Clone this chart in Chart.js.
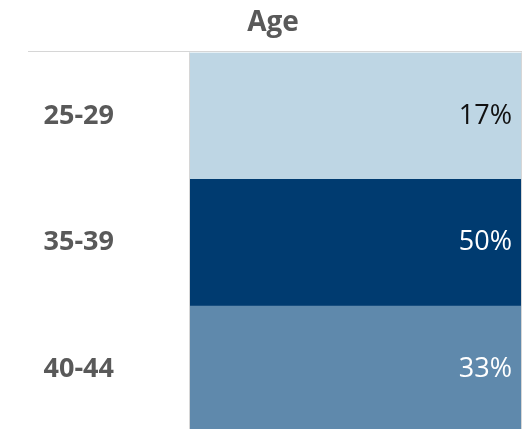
<!DOCTYPE html>
<html>
<head>
<meta charset="utf-8">
<script src="https://cdn.jsdelivr.net/npm/chart.js@4/dist/chart.umd.min.js"></script>
<style>
  html, body { margin: 0; padding: 0; background: #fff; overflow: hidden; }
  #wrap { width: 527px; height: 433px; }
</style>
</head>
<body>
<div id="wrap"><canvas id="ageChart" width="527" height="433"></canvas></div>
<script>
// table-like chart: one cell per age band, filled across the whole column
const categories = ['25-29', '35-39', '40-44'];
const shares = [17, 50, 33];          // % shown in each cell
const cellSpan = [1, 1, 1];           // every cell fills its row
const cellColors = ['#BED6E4', '#003B70', '#5F89AC'];
const labelColors = ['#111111', '#ffffff', '#ffffff'];

const gray = '#595959';
const ruleColor = '#d6d6d6';

// top rule + side borders of the table
const tableLines = {
    id: 'tableLines',
    afterDatasetsDraw(chart) {
        const {ctx, chartArea} = chart;
        ctx.save();
        ctx.strokeStyle = ruleColor;
        ctx.lineWidth = 1;
        ctx.beginPath();
        ctx.moveTo(28, Math.floor(chartArea.top) - 0.5);
        ctx.lineTo(chartArea.right, Math.floor(chartArea.top) - 0.5);
        ctx.moveTo(chartArea.left + 0.5, chartArea.top);
        ctx.lineTo(chartArea.left + 0.5, chartArea.bottom);
        ctx.moveTo(chartArea.right - 0.5, chartArea.top);
        ctx.lineTo(chartArea.right - 0.5, chartArea.bottom);
        ctx.stroke();
        ctx.restore();
    }
};

// percentage text at the right end of each cell
const cellLabels = {
    id: 'cellLabels',
    afterDatasetsDraw(chart) {
        const {ctx} = chart;
        const meta = chart.getDatasetMeta(0);
        ctx.save();
        ctx.font = '27px "Open Sans"';
        ctx.textAlign = 'right';
        ctx.textBaseline = 'middle';
        meta.data.forEach((bar, i) => {
            ctx.fillStyle = labelColors[i];
            ctx.fillText(shares[i] + '%', bar.x - 10, bar.y);
        });
        ctx.restore();
    }
};

new Chart(document.getElementById('ageChart'), {
    type: 'bar',
    data: {
        labels: categories,
        datasets: [{
            label: 'Age',
            data: cellSpan,
            backgroundColor: cellColors,
            borderWidth: 0,
            barPercentage: 1,
            categoryPercentage: 1
        }]
    },
    options: {
        indexAxis: 'y',
        responsive: false,
        animation: false,
        layout: { padding: { left: 24, right: 5, top: 0, bottom: 0 } },
        scales: {
            x: { display: false, min: 0, max: 1 },
            y: {
                grid: { display: false, drawTicks: false },
                border: { display: false },
                ticks: {
                    color: gray,
                    padding: 75,
                    font: { family: 'Open Sans', size: 27, weight: 'bold' }
                },
                afterFit(axis) {
                    axis.width = 165;
                    axis.paddingTop = 0;
                    axis.paddingBottom = 0;
                }
            }
        },
        plugins: {
            legend: { display: false },
            tooltip: { enabled: false },
            title: {
                display: true,
                text: 'Age',
                color: gray,
                font: { family: 'Open Sans', size: 28, weight: 'bold', lineHeight: 1.2 },
                padding: { top: 6, bottom: 13 }
            }
        }
    },
    plugins: [tableLines, cellLabels]
});
</script>
</body>
</html>
